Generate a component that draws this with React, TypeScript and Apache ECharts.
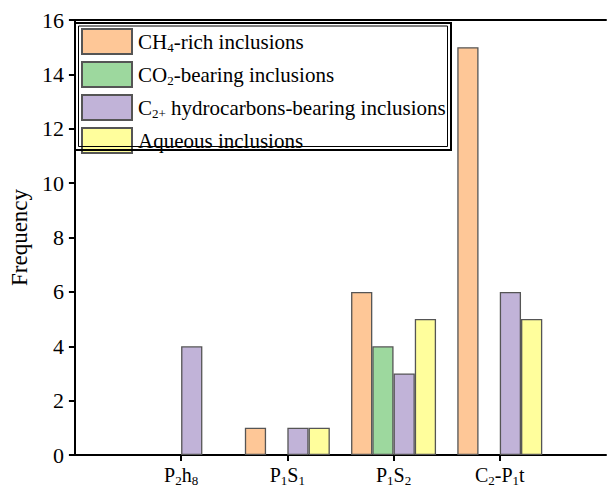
import React, { useEffect, useRef } from "react";
import * as echarts from "echarts";

// Stratigraphic units (rich-text markup for subscripts)
const units = ["{n|P}{s|2}{n|h}{s|8}", "{n|P}{s|1}{n|S}{s|1}", "{n|P}{s|1}{n|S}{s|2}", "{n|C}{s|2}{n|-P}{s|1}{n|t}"];

// Inclusion counts per unit
const ch4Rich = [0, 1, 6, 15];
const co2Bearing = [0, 0, 4, 0];
const c2Bearing = [4, 1, 3, 6];
const aqueous = [0, 1, 5, 5];

const seriesNames = ["CH4", "CO2", "C2", "AQ"];
const legendLabels: Record<string, string> = {
  CH4: "{n|CH}{s|4}{n|-rich inclusions}",
  CO2: "{n|CO}{s|2}{n|-bearing inclusions}",
  C2: "{n|C}{s|2+}{n| hydrocarbons-bearing inclusions}",
  AQ: "{n|Aqueous inclusions}",
};
const colors = ["#FEC797", "#9DD89E", "#C1B3D8", "#FFFE9C"];

const yTicks = { min: 0, max: 16, interval: 2 };

const FONT = "Liberation Serif";

const richFor = (size: number, sub: number) => ({
  n: { fontFamily: FONT, fontSize: size, lineHeight: 24, color: "#000", verticalAlign: "middle" as const },
  s: { fontFamily: FONT, fontSize: sub, lineHeight: sub, color: "#000", verticalAlign: "bottom" as const },
});

export default function App() {
  const ref = useRef<HTMLDivElement>(null);

  useEffect(() => {
    if (!ref.current) return;
    const chart = echarts.init(ref.current, undefined, { renderer: "svg" });

    // pad an empty slot on each side so the units sit at whole steps from the axes
    const axisData = ["", ...units, ""];
    const pad = (arr: number[]) => [null, ...arr.map((v) => (v === 0 ? null : v)), null];
    const allData = [ch4Rich, co2Bearing, c2Bearing, aqueous];

    chart.setOption({
      animation: false,
      backgroundColor: "#fff",
      grid: { left: 72, top: 20, bottom: 32, right: -3, containLabel: false },
      legend: {
        orient: "vertical",
        left: 81,
        top: 28,
        padding: 0,
        itemWidth: 50,
        itemHeight: 25,
        itemGap: 6,
        icon: "rect",
        data: seriesNames,
        formatter: (n: string) => legendLabels[n],
        textStyle: {
          fontFamily: FONT,
          fontSize: 21,
          lineHeight: 24,
          color: "#000",
          padding: [0, 0, 0, 1],
          rich: richFor(21, 13),
        },
      },
      graphic: [
        {
          type: "rect",
          shape: { x: 75, y: 23, width: 376, height: 127 },
          style: { fill: "none", stroke: "#000", lineWidth: 2 },
          z: 10,
        },
        {
          type: "rect",
          shape: { x: 78.5, y: 26, width: 369, height: 120.5 },
          style: { fill: "none", stroke: "#000", lineWidth: 1 },
          z: 10,
        },
      ],
      xAxis: [
        {
          type: "category",
          data: axisData,
          boundaryGap: false,
          axisLine: { lineStyle: { color: "#000", width: 2 } },
          axisTick: {
            length: 6,
            lineStyle: { color: "#000", width: 2 },
            interval: (i: number) => i > 0 && i < axisData.length - 1,
          },
          axisLabel: {
            interval: 0,
            margin: 8,
            fontFamily: FONT,
            fontSize: 20,
            lineHeight: 22,
            color: "#000",
            rich: richFor(20, 13),
          },
          splitLine: { show: false },
        },
        {
          type: "category",
          data: axisData,
          position: "top",
          boundaryGap: false,
          axisLine: { lineStyle: { color: "#000", width: 2 } },
          axisTick: { show: false },
          axisLabel: { show: false },
        },
      ],
      yAxis: {
        type: "value",
        ...yTicks,
        name: "Frequency",
        nameLocation: "middle",
        nameGap: 38,
        nameTextStyle: { fontFamily: FONT, fontSize: 23, color: "#000" },
        axisLine: { show: true, lineStyle: { color: "#000", width: 2 } },
        axisTick: { show: true, length: 6, lineStyle: { color: "#000", width: 2 } },
        axisLabel: { fontFamily: FONT, fontSize: 22, color: "#000", margin: 11 },
        splitLine: { show: false },
      },
      series: seriesNames.map((name, i) => ({
        name,
        type: "bar",
        data: pad(allData[i]),
        barGap: "0%",
        barCategoryGap: "20%",
        itemStyle: { color: colors[i], borderColor: "#555", borderWidth: 1.3 },
      })),
    });

    return () => chart.dispose();
  }, []);

  return (
    <div
      ref={ref}
      style={{ position: "fixed", left: 0, top: 0, width: 609, height: 487 }}
    />
  );
}
